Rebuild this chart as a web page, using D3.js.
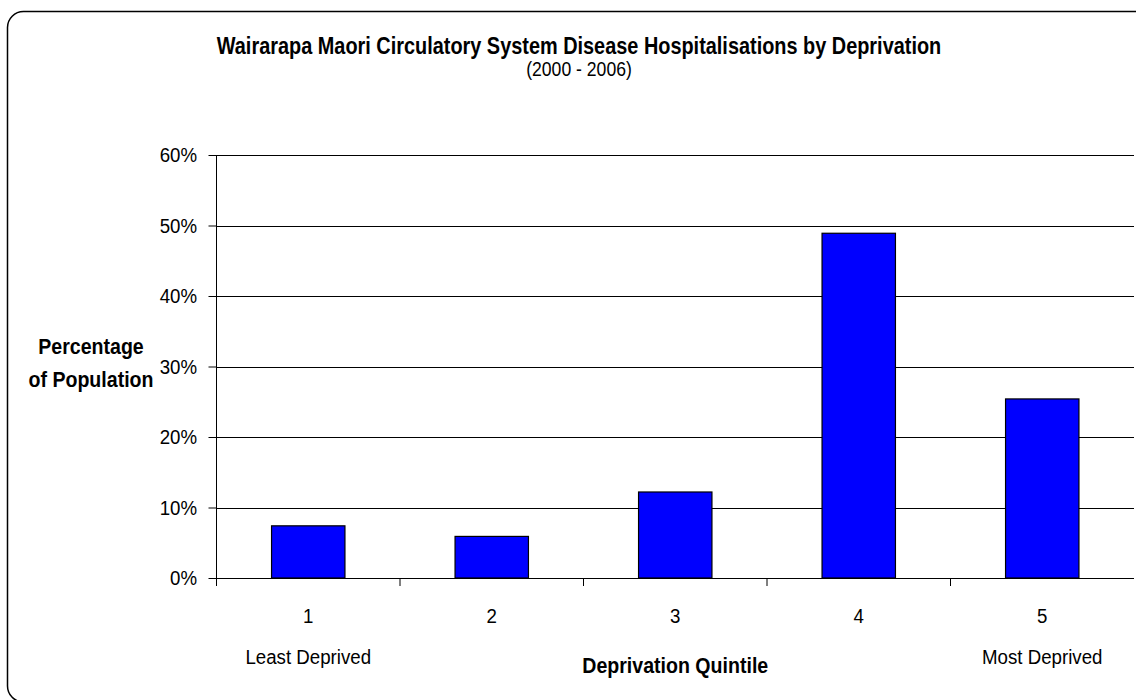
<!DOCTYPE html>
<html>
<head>
<meta charset="utf-8">
<script src="https://cdn.jsdelivr.net/npm/d3@7"></script>
<style>
  html, body { margin: 0; padding: 0; background: #fff; }
  svg { display: block; font-family: "Liberation Sans", Arial, sans-serif; }
</style>
</head>
<body>
<svg id="chart" width="1136" height="700"></svg>
<script>
// Deprivation quintiles and share of hospitalisations (%)
const quintiles = ["1", "2", "3", "4", "5"];
const shares = [7.4, 5.9, 12.2, 48.9, 25.4];
const yTicks = [0, 10, 20, 30, 40, 50, 60];
const endLabels = [
  { quintile: "1", text: "Least Deprived" },
  { quintile: "5", text: "Most Deprived" }
];

const svg = d3.select("#chart");
const NARROW = 0.89; // horizontal condensing applied to all labels

// Place a condensed text at (x, y)
function label(parent, x, y, str, opts = {}) {
  const t = parent.append("text")
    .attr("transform", `translate(${x},${y}) scale(${opts.sx || NARROW},1)`)
    .attr("text-anchor", opts.anchor || "middle")
    .attr("font-size", opts.size || 21)
    .attr("fill", "#000")
    .text(str);
  if (opts.bold) t.attr("font-weight", "bold");
  return t;
}

// Outer chart frame with rounded corners
svg.append("rect")
  .attr("x", 7.5).attr("y", 11.5)
  .attr("width", 1160).attr("height", 690.5)
  .attr("rx", 16).attr("ry", 16)
  .attr("fill", "#fff")
  .attr("stroke", "#000")
  .attr("stroke-width", 1.5);

const plot = { left: 216.5, right: 1134, top: 155, bottom: 578 };

const x = d3.scaleBand()
  .domain(quintiles)
  .range([plot.left, plot.right])
  .paddingInner(0.6)
  .paddingOuter(0.3);

const y = d3.scaleLinear()
  .domain([0, 60])
  .range([plot.bottom, plot.top]);

// Title
label(svg, 579, 54, "Wairarapa Maori Circulatory System Disease Hospitalisations by Deprivation",
  { bold: true, size: 23, sx: 0.865 });
label(svg, 579, 76, "(2000 - 2006)", { size: 20, sx: 0.88 });

// Horizontal gridlines
svg.append("g")
  .selectAll("line")
  .data(yTicks.filter(d => d > 0))
  .join("line")
  .attr("x1", plot.left).attr("x2", plot.right)
  .attr("y1", d => Math.round(y(d)) + 0.5)
  .attr("y2", d => Math.round(y(d)) + 0.5)
  .attr("stroke", "#000")
  .attr("stroke-width", 1);

// Bars
svg.append("g")
  .selectAll("rect")
  .data(quintiles)
  .join("rect")
  .attr("x", d => x(d))
  .attr("y", (d, i) => y(shares[i]))
  .attr("width", x.bandwidth())
  .attr("height", (d, i) => plot.bottom - y(shares[i]))
  .attr("fill", "#0000ff")
  .attr("stroke", "#000")
  .attr("stroke-width", 1.2);

// Y axis
const yAxis = d3.axisLeft(y)
  .tickValues(yTicks)
  .tickFormat(d => d + "%")
  .tickSize(8)
  .tickPadding(4);

const gy = svg.append("g")
  .attr("transform", `translate(${plot.left},0)`)
  .call(yAxis);
gy.select(".domain").remove();
gy.append("line")
  .attr("x1", 0).attr("x2", 0)
  .attr("y1", plot.top).attr("y2", plot.bottom + 8)
  .attr("stroke", "#000");
gy.selectAll(".tick line").attr("stroke", "#000");
gy.selectAll(".tick text")
  .attr("font-size", 21)
  .attr("font-family", null)
  .attr("fill", "#000")
  .attr("x", -19.5 / NARROW)
  .attr("transform", `scale(${NARROW},1)`);

// X axis baseline and category separators
const xAxisG = svg.append("g");
xAxisG.append("line")
  .attr("x1", plot.left).attr("x2", plot.right)
  .attr("y1", plot.bottom + 0.5).attr("y2", plot.bottom + 0.5)
  .attr("stroke", "#000");
const gap = x.paddingInner() * x.step();
xAxisG.selectAll("line.sep")
  .data(quintiles.slice(1))
  .join("line")
  .attr("class", "sep")
  .attr("x1", q => x(q) - gap / 2)
  .attr("x2", q => x(q) - gap / 2)
  .attr("y1", plot.bottom).attr("y2", plot.bottom + 8)
  .attr("stroke", "#000");

// Category labels
quintiles.forEach(q => label(xAxisG, x(q) + x.bandwidth() / 2, 623, q));
endLabels.forEach(d => label(xAxisG, x(d.quintile) + x.bandwidth() / 2, 664, d.text));

// Axis titles
label(svg, (plot.left + plot.right) / 2, 673, "Deprivation Quintile", { bold: true, size: 22 });
label(svg, 91, 354, "Percentage", { bold: true, size: 22 });
label(svg, 91, 387, "of Population", { bold: true, size: 22 });
</script>
</body>
</html>
